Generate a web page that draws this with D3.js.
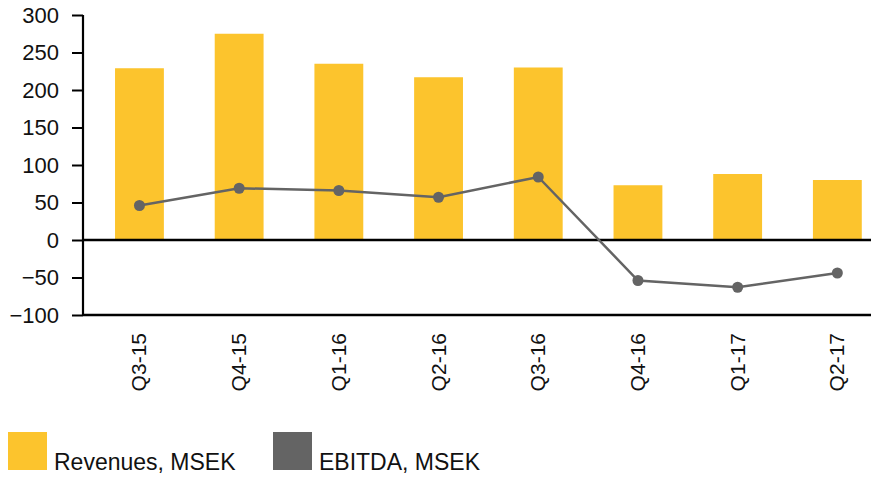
<!DOCTYPE html>
<html>
<head>
<meta charset="utf-8">
<script src="https://cdn.jsdelivr.net/npm/d3@7"></script>
<style>
  body { margin: 0; background: #fff; }
  svg { display: block; font-family: "Liberation Sans", Arial, sans-serif; }
</style>
</head>
<body>
<svg width="871" height="477"></svg>
<script>
var quarters = ["Q3-15", "Q4-15", "Q1-16", "Q2-16", "Q3-16", "Q4-16", "Q1-17", "Q2-17"];
var revenues = [229, 275, 235, 217, 230, 73, 88, 80];
var ebitda = [46, 69, 66, 57, 84, -54, -63, -44];
var yTicks = [-100, -50, 0, 50, 100, 150, 200, 250, 300];
var legendLabels = ["Revenues, MSEK", "EBITDA, MSEK"];

var svg = d3.select("svg"),
  yellow = "#fcc42d",
  grey = "#646464";

var x = d3.scaleBand().domain(quarters).range([89.6, 887.2]).paddingInner(0.51).paddingOuter(0.255),
  y = d3.scaleLinear().domain([-100, 300]).range([315, 15]);

// bars
svg.selectAll(".bar")
  .data(revenues)
  .enter().append("rect")
  .attr("class", "bar")
  .attr("x", function(d, i) { return x(quarters[i]); })
  .attr("y", function(d) { return y(d); })
  .attr("width", x.bandwidth())
  .attr("height", function(d) { return y(0) - y(d); })
  .attr("fill", yellow);

// y axis
var yAxis = svg.append("g")
  .attr("transform", "translate(83,0)")
  .call(d3.axisLeft(y).tickValues(yTicks).tickSize(11).tickPadding(13).tickFormat(d3.format("d")));
yAxis.select(".domain").attr("stroke", "#000").attr("stroke-width", 2.2).attr("d", "M0," + y(300) + "V" + y(-100));
yAxis.selectAll(".tick line").attr("stroke", "#000").attr("stroke-width", 2);
yAxis.selectAll(".tick text").attr("font-size", 22).attr("fill", "#111").attr("font-family", "Liberation Sans, Arial, sans-serif");

// zero line and bottom line
svg.append("line").attr("x1", 83).attr("x2", 871).attr("y1", y(0)).attr("y2", y(0))
  .attr("stroke", "#000").attr("stroke-width", 2.5);
svg.append("line").attr("x1", 83).attr("x2", 871).attr("y1", y(-100)).attr("y2", y(-100))
  .attr("stroke", "#000").attr("stroke-width", 2.5);

// x labels
svg.selectAll(".xlab")
  .data(quarters)
  .enter().append("text")
  .attr("class", "xlab")
  .attr("transform", function(d) { return "translate(" + (x(d) + x.bandwidth() / 2 + 7) + "," + (y(-100) + 18) + ") rotate(-90)"; })
  .attr("text-anchor", "end")
  .attr("font-size", 21)
  .attr("fill", "#111")
  .text(function(d) { return d; });

// line
var line = d3.line()
  .x(function(d, i) { return x(quarters[i]) + x.bandwidth() / 2; })
  .y(function(d) { return y(d); });

svg.append("path")
  .datum(ebitda)
  .attr("d", line)
  .attr("fill", "none")
  .attr("stroke", grey)
  .attr("stroke-width", 2.5);

svg.selectAll(".dot")
  .data(ebitda)
  .enter().append("circle")
  .attr("class", "dot")
  .attr("cx", function(d, i) { return x(quarters[i]) + x.bandwidth() / 2; })
  .attr("cy", function(d) { return y(d); })
  .attr("r", 5.5)
  .attr("fill", grey);

// legend
var legendX = [8, 273];
var legend = svg.selectAll(".legend")
  .data(legendLabels)
  .enter().append("g")
  .attr("class", "legend")
  .attr("transform", function(d, i) { return "translate(" + legendX[i] + ",432)"; });
legend.append("rect")
  .attr("width", 39).attr("height", 38)
  .attr("fill", function(d, i) { return i === 0 ? yellow : grey; });
legend.append("text")
  .attr("x", 46).attr("y", 38)
  .attr("font-size", 23)
  .attr("fill", "#111")
  .text(function(d) { return d; });
</script>
</body>
</html>
